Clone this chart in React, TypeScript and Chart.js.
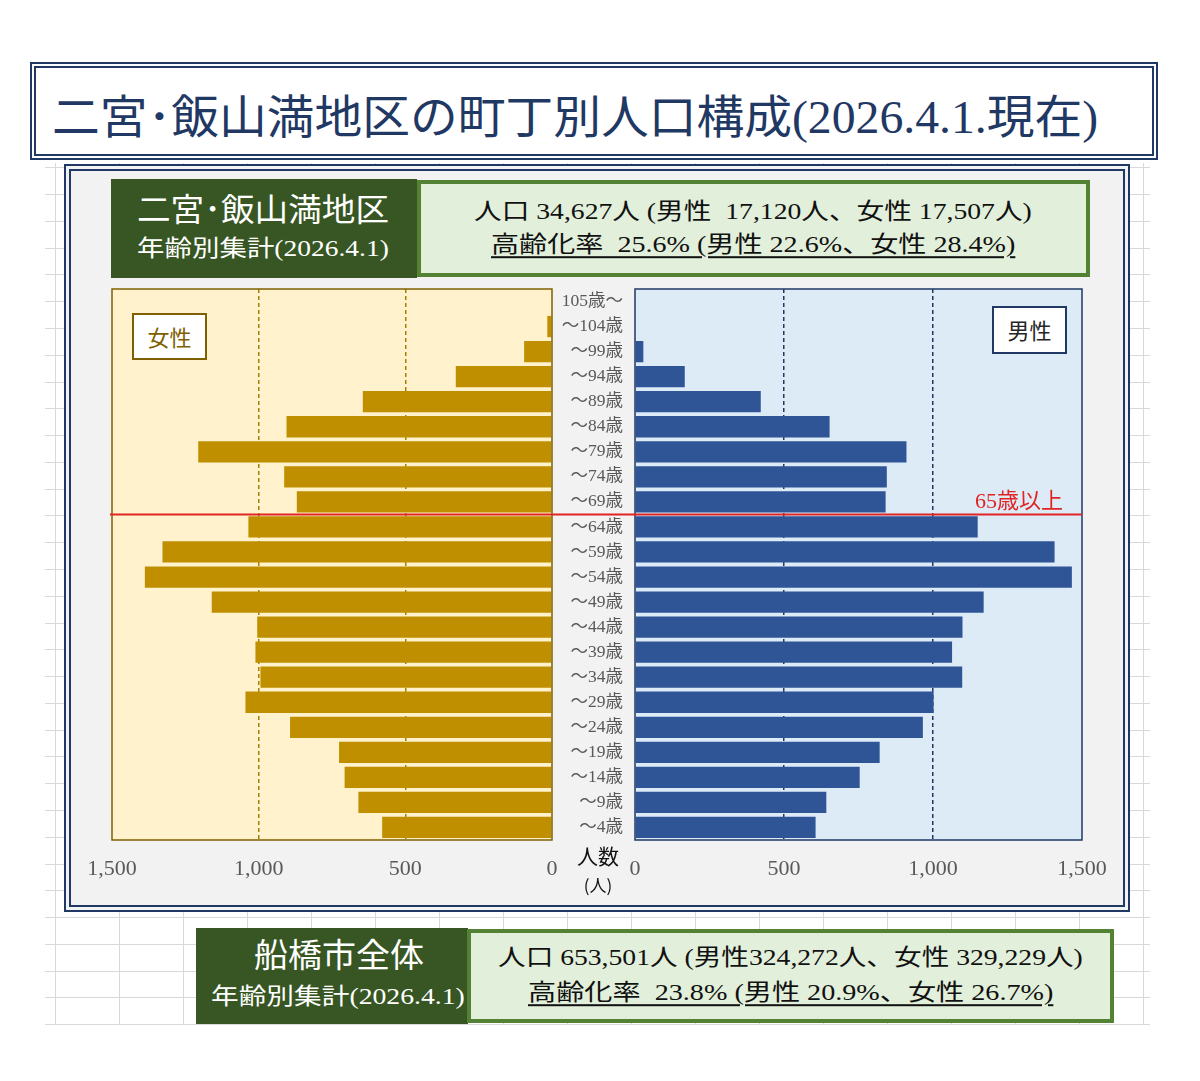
import React, { useEffect, useLayoutEffect, useRef } from "react";
import { Chart, registerables } from "chart.js";

Chart.register(...registerables);

// Age groups, oldest at the top
const AGE_GROUPS = [
  "105歳～", "～104歳", "～99歳", "～94歳", "～89歳", "～84歳", "～79歳", "～74歳",
  "～69歳", "～64歳", "～59歳", "～54歳", "～49歳", "～44歳", "～39歳", "～34歳",
  "～29歳", "～24歳", "～19歳", "～14歳", "～9歳", "～4歳",
];

// Population by age group (people)
const FEMALE = [0, 16, 95, 328, 645, 905, 1206, 913, 870, 1035, 1328, 1388, 1160, 1005, 1011, 994, 1045, 893, 726, 707, 660, 579];
const MALE = [0, 0, 28, 167, 422, 653, 911, 845, 841, 1150, 1408, 1466, 1170, 1099, 1064, 1098, 1002, 966, 821, 754, 642, 606];

const AXIS_MAX = 1500;
const AXIS_STEP = 500;
// first group below 65 (～64歳); the red line sits above it
const ELDERLY_SPLIT = 9;

const FONT = "'Liberation Serif', 'Noto Sans CJK JP', serif";
const CJK = "'Noto Sans CJK JP', sans-serif";

const FEMALE_STYLE = { bar: "#bf8f00", bg: "#fff2cc", border: "#7f6000", dash: "#a88000" };
const MALE_STYLE = { bar: "#2f5597", bg: "#ddebf7", border: "#1f3864", dash: "#1f3864" };
const RED = "#e02424";
const CLEAR = "rgba(0,0,0,0)";

type Side = "female" | "male";

function panelPlugin(side: Side) {
  const st = side === "female" ? FEMALE_STYLE : MALE_STYLE;
  return {
    id: "panel-" + side,
    beforeDraw(chart: any) {
      const { ctx, chartArea: a } = chart;
      ctx.save();
      ctx.fillStyle = st.bg;
      ctx.fillRect(a.left, a.top, a.right - a.left, a.bottom - a.top);
      ctx.restore();
    },
    afterDatasetsDraw(chart: any) {
      const { ctx, chartArea: a } = chart;
      const y = chart.scales.y;
      ctx.save();
      ctx.strokeStyle = st.border;
      ctx.lineWidth = 1.5;
      ctx.strokeRect(a.left, a.top, a.right - a.left, a.bottom - a.top);

      const ry = (y.getPixelForValue(ELDERLY_SPLIT - 1) + y.getPixelForValue(ELDERLY_SPLIT)) / 2;
      ctx.strokeStyle = RED;
      ctx.lineWidth = 2;
      ctx.beginPath();
      if (side === "female") {
        ctx.moveTo(a.left - 2, ry);
        ctx.lineTo(chart.width, ry);
      } else {
        ctx.moveTo(0, ry);
        ctx.lineTo(a.right, ry);
      }
      ctx.stroke();

      if (side === "male") {
        ctx.fillStyle = RED;
        ctx.font = "22px " + FONT;
        ctx.textAlign = "right";
        ctx.textBaseline = "alphabetic";
        ctx.fillText("65歳以上", a.right - 19, ry - 6);
      }
      ctx.restore();
    },
  };
}

function makeConfig(side: Side): any {
  const st = side === "female" ? FEMALE_STYLE : MALE_STYLE;
  const data = side === "female" ? FEMALE : MALE;
  return {
    type: "bar",
    data: {
      labels: AGE_GROUPS,
      datasets: [
        {
          label: side === "female" ? "女性" : "男性",
          data,
          backgroundColor: st.bar,
          borderWidth: 0,
          barPercentage: 0.85,
          categoryPercentage: 1,
        },
      ],
    },
    options: {
      indexAxis: "y",
      responsive: false,
      animation: false,
      devicePixelRatio: 1,
      layout: {
        padding: side === "female"
          ? { left: 32, right: 7, top: 11, bottom: 0 }
          : { left: 0, right: 30, top: 11, bottom: 0 },
      },
      plugins: { legend: { display: false }, tooltip: { enabled: false } },
      scales: {
        x: {
          type: "linear",
          min: 0,
          max: AXIS_MAX,
          reverse: side === "female",
          ticks: {
            stepSize: AXIS_STEP,
            autoSkip: false,
            maxRotation: 0,
            padding: 0,
            color: "#595959",
            font: { family: FONT, size: 22 },
            callback: (v: any) => Number(v).toLocaleString("en-US"),
          },
          grid: {
            drawTicks: true,
            tickLength: 16,
            tickColor: CLEAR,
            lineWidth: 1.5,
            color: (c: any) =>
              c.tick && c.tick.value > 0 && c.tick.value < AXIS_MAX ? st.dash : CLEAR,
          },
          border: { display: false, dash: [4, 3] },
          afterFit: (s: any) => {
            s.height = 50;
          },
        },
        y: side === "female"
          ? { display: false }
          : {
              position: "left",
              grid: {
                display: true,
                drawOnChartArea: false,
                drawTicks: true,
                tickLength: 12,
                tickColor: CLEAR,
                color: CLEAR,
              },
              border: { display: false },
              ticks: {
                autoSkip: false,
                padding: 0,
                color: "#595959",
                font: { family: FONT, size: 17.5 },
              },
              afterFit: (s: any) => {
                s.width = 76;
              },
            },
      },
    },
    plugins: [panelPlugin(side)],
  };
}

const abs = (l: number, t: number, w: number, h: number): React.CSSProperties => ({
  position: "absolute",
  left: l,
  top: t,
  width: w,
  height: h,
  boxSizing: "border-box",
});

// light spreadsheet cell lines behind the panels
const H_LINES = Array.from({ length: 33 }, (_, k) => 167.3 + k * 26.78);
const V_LINES = Array.from({ length: 18 }, (_, k) => 55 + k * 64);

// a single line of text stretched to span [x, x + w], vertically centred on y
function FitText({
  text, x, y, w, size, color, family = FONT, underline = false,
}: {
  text: string; x: number; y: number; w: number; size: number; color: string; family?: string; underline?: boolean;
}) {
  const ref = useRef<HTMLSpanElement>(null);
  useLayoutEffect(() => {
    const el = ref.current;
    if (!el) return;
    const natural = el.offsetWidth || w;
    el.style.transform = `translateY(-50%) scaleX(${w / natural})`;
  }, [text, w]);
  return (
    <span
      ref={ref}
      style={{
        position: "absolute",
        left: x,
        top: y,
        transformOrigin: "0 50%",
        transform: "translateY(-50%)",
        whiteSpace: "pre",
        fontSize: size,
        fontFamily: family,
        lineHeight: "1.2",
        color,
        textDecoration: underline ? "underline" : "none",
        textUnderlineOffset: "4px",
        textDecorationThickness: "1.5px",
      }}
    >
      {text}
    </span>
  );
}

export default function App() {
  const femaleRef = useRef<HTMLCanvasElement>(null);
  const maleRef = useRef<HTMLCanvasElement>(null);

  useEffect(() => {
    const f = new Chart(femaleRef.current!, makeConfig("female"));
    const m = new Chart(maleRef.current!, makeConfig("male"));
    return () => {
      f.destroy();
      m.destroy();
    };
  }, []);

  return (
    <div style={{ position: "absolute", left: 0, top: 0, width: 1200, height: 1081, background: "#fff", overflow: "hidden" }}>
      {H_LINES.map((y, i) => (
        <div key={"h" + i} style={{ position: "absolute", left: 45, width: 1105, top: Math.round(y), height: 1, background: "#d9d9d9" }} />
      ))}
      {V_LINES.map((x, i) => (
        <div key={"v" + i} style={{ position: "absolute", top: 163, height: 861, left: x, width: 1, background: "#d9d9d9" }} />
      ))}

      {/* title */}
      <div style={{ ...abs(30, 62, 1128, 98), border: "6px double #1f3864", background: "#fff" }} />
      <FitText text="二宮･飯山満地区の町丁別人口構成(2026.4.1.現在)" x={52} y={118} w={1046} size={46} color="#1f3864" />

      {/* main panel */}
      <div style={{ ...abs(64, 164, 1066, 748), border: "7px double #1f3864", background: "#f2f2f2" }} />

      {/* district summary */}
      <div style={{ ...abs(111, 179, 306, 99), background: "#375623" }} />
      <div style={{ ...abs(417, 180, 673, 97), background: "#e2efda", border: "4px solid #548235" }} />
      <FitText text="二宮･飯山満地区" x={137} y={210} w={252} size={32} color="#fff" />
      <FitText text="年齢別集計(2026.4.1)" x={137} y={249} w={252} size={23} color="#fff" />
      <FitText text="人口 34,627人 (男性  17,120人、女性 17,507人)" x={474} y={212} w={558} size={23} color="#111" />
      <FitText text="高齢化率  25.6% (男性 22.6%、女性 28.4%)" x={491} y={245} w={524} size={23} color="#111" underline />

      <canvas ref={femaleRef} width={479} height={612} style={{ position: "absolute", left: 80, top: 278, width: 479, height: 612 }} />
      <canvas ref={maleRef} width={553} height={612} style={{ position: "absolute", left: 559, top: 278, width: 553, height: 612 }} />

      {/* sex labels */}
      <div style={{ ...abs(132, 313, 75, 47), background: "#fff", border: "2px solid #7f6000", color: "#7f6000", fontFamily: CJK, fontSize: 22, lineHeight: "42px", textAlign: "center" }}>
        女性
      </div>
      <div style={{ ...abs(992, 306, 75, 48), background: "#fff", border: "2px solid #1f3864", color: "#262626", fontFamily: CJK, fontSize: 22, lineHeight: "43px", textAlign: "center" }}>
        男性
      </div>

      {/* unit label */}
      <div style={{ position: "absolute", left: 558, width: 80, top: 843, textAlign: "center", fontFamily: CJK, fontSize: 21, lineHeight: "1.2", color: "#111" }}>
        人数
      </div>
      <div style={{ position: "absolute", left: 558, width: 80, top: 875, textAlign: "center", fontFamily: CJK, fontSize: 17, lineHeight: "1.2", color: "#111" }}>
        (人)
      </div>

      {/* city-wide summary */}
      <div style={{ ...abs(196, 928, 272, 96), background: "#375623" }} />
      <div style={{ ...abs(467, 929, 647, 94), background: "#e2efda", border: "4px solid #548235" }} />
      <FitText text="船橋市全体" x={254} y={957} w={170} size={33} color="#fff" />
      <FitText text="年齢別集計(2026.4.1)" x={211} y={997} w={254} size={23} color="#fff" />
      <FitText text="人口 653,501人 (男性324,272人、女性 329,229人)" x={498} y={958} w={585} size={23} color="#111" />
      <FitText text="高齢化率  23.8% (男性 20.9%、女性 26.7%)" x={528} y={993} w={525} size={23} color="#111" underline />
    </div>
  );
}
